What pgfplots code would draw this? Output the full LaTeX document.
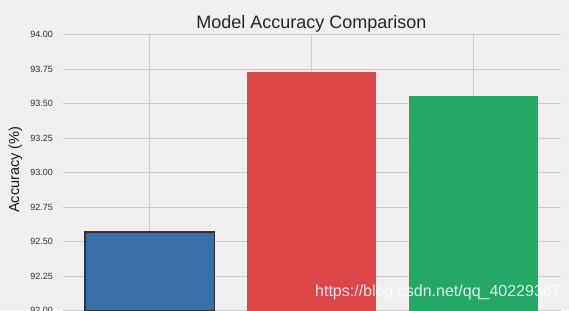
\documentclass[border=0pt]{standalone}
\usepackage{pgfplots}
\pgfplotsset{compat=1.18}
\usepackage{fontspec}
\setmainfont{Liberation Sans}
\definecolor{bg}{HTML}{F0EFED}
\definecolor{gridc}{HTML}{CBCBCB}
\definecolor{cblue}{HTML}{3770A8}
\definecolor{cred}{HTML}{DC4649}
\definecolor{cgreen}{HTML}{23A866}
\begin{document}
\begin{tikzpicture}[x=1pt,y=1pt]
\fill[bg] (0,0) rectangle (569,310);
\path[use as bounding box] (0,0) rectangle (569,310);
\clip (0,0) rectangle (569,310);
\begin{axis}[
  at={(62.5pt,-0.8pt)}, anchor=south west,
  scale only axis, width=498pt, height=276pt,
  xmin=-0.54, xmax=2.54, ymin=92, ymax=94,
  axis line style={draw=none},
  major tick length=0pt,
  xtick={0,1,2}, xticklabels={},
  ytick={92,92.25,92.5,92.75,93,93.25,93.5,93.75,94},
  yticklabel style={/pgf/number format/.cd, fixed, fixed zerofill, precision=2, assume math mode=true},
  tick label style={font=\fontsize{9}{10}\selectfont, text=black!80, xshift=-6pt},
  grid=major,
  major grid style={draw=gridc, line width=1pt},
  ybar, bar width=0.8, bar shift=0pt,
  title={Model Accuracy Comparison},
  title style={at={(0.5,1)}, anchor=base, yshift=0pt, inner sep=0pt, font=\fontsize{18}{21}\selectfont, text=black!85},
  ylabel={Accuracy (\%)},
  every axis y label/.style={at={(axis description cs:0,0.5)}, rotate=90, anchor=center, yshift=47pt, xshift=3pt, font=\fontsize{14.5}{17}\selectfont, text=black!90},
]
\addplot[fill=cblue, draw=black!80, line width=1.7pt] coordinates {(0,92.572)};
\addplot[fill=cred, draw=none] coordinates {(1,93.729)};
\addplot[fill=cgreen, draw=none] coordinates {(2,93.555)};
\end{axis}
\node[anchor=base west, text=white, opacity=0.85, font=\fontsize{16}{18}\selectfont, inner sep=0pt] at (315,14) {https://blog.csdn.net/qq\_40229367};
\end{tikzpicture}
\end{document}
